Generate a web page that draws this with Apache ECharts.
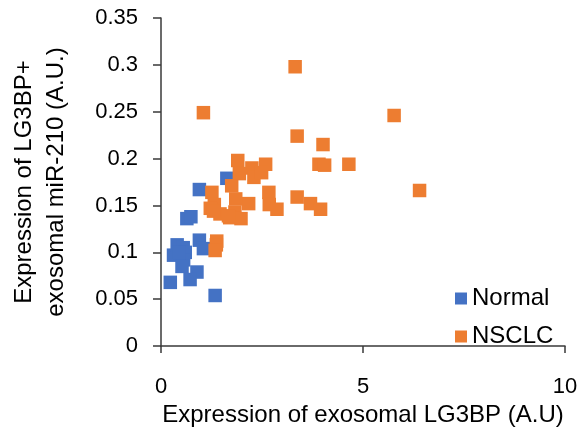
<!DOCTYPE html>
<html>
<head>
<meta charset="utf-8">
<script src="https://cdn.jsdelivr.net/npm/echarts@6/dist/echarts.min.js"></script>
<style>
html,body{margin:0;padding:0;background:#fff;}
#chart{width:584px;height:432px;}
</style>
</head>
<body>
<div id="chart"></div>
<script>
var seriesNames = ["Normal", "NSCLC"];
var normalX = [0.23, 0.31, 0.40, 0.55, 0.60, 0.56, 0.52, 0.45, 0.89, 0.72, 1.34, 0.95, 1.05, 0.64, 0.74, 0.95, 1.63];
var normalY = [0.068, 0.097, 0.108, 0.105, 0.100, 0.092, 0.085, 0.100, 0.079, 0.071, 0.054, 0.113, 0.104, 0.136, 0.138, 0.167, 0.179];
var nsclcX = [3.32, 1.05, 5.77, 3.37, 4.01, 3.91, 4.05, 4.65, 6.40, 3.37, 3.70, 3.95, 1.90, 2.25, 2.59, 1.94, 2.30, 2.49, 1.75, 1.26, 2.67, 2.68, 2.87, 2.17, 1.85, 1.32, 1.22, 1.46, 1.83, 1.70, 1.98, 1.38, 1.37, 1.34, 1.30, 1.67];
var nsclcY = [0.298, 0.249, 0.246, 0.224, 0.215, 0.194, 0.193, 0.194, 0.166, 0.159, 0.152, 0.146, 0.198, 0.190, 0.194, 0.184, 0.180, 0.185, 0.171, 0.164, 0.164, 0.151, 0.146, 0.152, 0.157, 0.151, 0.147, 0.141, 0.143, 0.137, 0.136, 0.112, 0.108, 0.102, 0.144, 0.139];
var xTitle = "Expression of exosomal LG3BP (A.U)";
var yTitle = "Expression of LG3BP+\nexosomal miR-210 (A.U.)";

function pairs(xs, ys) {
  var out = [];
  for (var i = 0; i < xs.length; i++) out.push([xs[i], ys[i]]);
  return out;
}

var font = "Liberation Sans, Arial, sans-serif";
var chart = echarts.init(document.getElementById('chart'), null, {renderer: 'canvas'});
chart.setOption({
  animation: false,
  backgroundColor: '#ffffff',
  grid: {left: 161, right: 19, top: 18, bottom: 79, containLabel: false},
  legend: {
    orient: 'vertical',
    left: 450,
    top: 280,
    icon: 'rect',
    itemWidth: 12,
    itemHeight: 12,
    itemGap: 11,
    textStyle: {fontFamily: font, fontSize: 24, color: '#000', lineHeight: 27},
    data: seriesNames
  },
  xAxis: {
    type: 'value', min: 0, max: 10, interval: 5,
    name: xTitle, nameLocation: 'middle', nameGap: 48,
    nameTextStyle: {fontFamily: font, fontSize: 24, color: '#000'},
    axisLine: {show: true, onZero: false, lineStyle: {color: '#3a3a3a', width: 1.5}},
    axisTick: {show: true, length: 7, lineStyle: {color: '#3a3a3a', width: 1.5}},
    axisLabel: {fontFamily: font, fontSize: 22, color: '#000', margin: 30},
    splitLine: {show: false}
  },
  yAxis: {
    type: 'value', min: 0, max: 0.35, interval: 0.05,
    name: yTitle, nameLocation: 'middle', nameGap: 89, nameRotate: 90,
    nameTextStyle: {fontFamily: font, fontSize: 24, color: '#000', lineHeight: 32, align: 'center'},
    axisLine: {show: true, onZero: false, lineStyle: {color: '#3a3a3a', width: 1.5}},
    axisTick: {show: true, length: 8, lineStyle: {color: '#3a3a3a', width: 1.5}},
    axisLabel: {fontFamily: font, fontSize: 22, color: '#000', margin: 23},
    splitLine: {show: false}
  },
  series: [
    {
      name: seriesNames[0], type: 'scatter', symbol: 'rect', symbolSize: 13.5,
      itemStyle: {color: '#4472C4', opacity: 1},
      data: pairs(normalX, normalY)
    },
    {
      name: seriesNames[1], type: 'scatter', symbol: 'rect', symbolSize: 13.5,
      itemStyle: {color: '#ED7D31', opacity: 1},
      data: pairs(nsclcX, nsclcY)
    }
  ]
});
</script>
</body>
</html>
